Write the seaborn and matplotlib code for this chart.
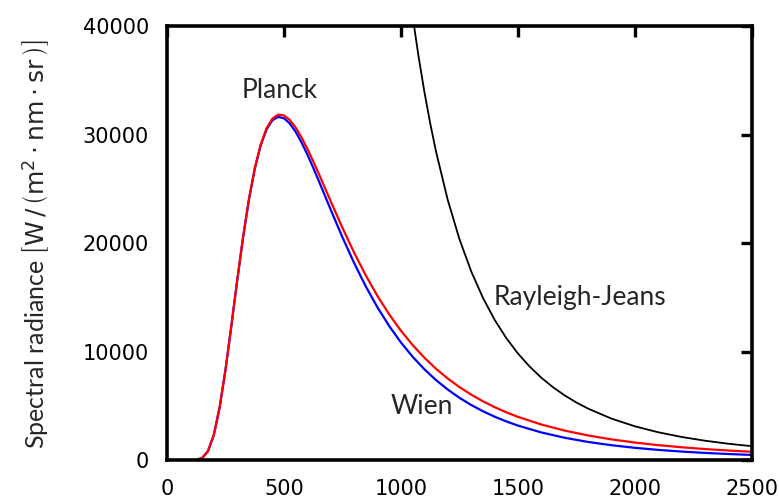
import matplotlib
matplotlib.use("Agg")
import matplotlib.pyplot as plt
import seaborn as sns
import pandas as pd

# wavelength (nm) and spectral radiance values
wl = [125, 150, 175, 200, 225, 250, 275, 300, 325, 350, 375, 400, 425, 450, 475,
      500, 525, 550, 575, 600, 625, 650, 675, 700, 750, 800, 850, 900, 950,
      1000, 1050, 1100, 1150, 1200, 1250, 1300, 1350, 1400, 1450, 1500, 1600,
      1700, 1800, 1900, 2000, 2100, 2200, 2300, 2400, 2500]
planck = [18, 179, 812, 2310, 4858, 8329, 12369, 16561, 20531, 24019, 26877,
          29052, 30557, 31456, 31827, 31756, 31332, 30634, 29729, 28677, 27526,
          26314, 25073, 23826, 21389, 19096, 16993, 15098, 13407, 11908, 10588,
          9426, 8403, 7507, 6717, 6023, 5412, 4873, 4396, 3975, 3268, 2708,
          2259, 1900, 1606, 1368, 1171, 1007, 872, 757]
wien = [18, 179, 812, 2310, 4858, 8328, 12367, 16555, 20518, 23994, 26832,
        28980, 30449, 31303, 31623, 31494, 31007, 30243, 29270, 28150, 26932,
        25656, 24354, 23051, 20515, 18143, 15981, 14047, 12333, 10826, 9509,
        8360, 7359, 6489, 5731, 5071, 4496, 3994, 3555, 3171, 2538, 2047,
        1663, 1362, 1122, 931, 777, 652, 551, 467]
wl_rj = [1050, 1075, 1100, 1125, 1150, 1200, 1250, 1300, 1350, 1400, 1450,
         1500, 1550, 1600, 1650, 1700, 1750, 1800, 1900, 2000, 2100, 2200,
         2300, 2400, 2500]
rayleigh_jeans = [40862, 37192, 33925, 31008, 28398, 23953, 20344, 17390,
                  14954, 12929, 11236, 9811, 8605, 7579, 6701, 5947, 5296,
                  4731, 3811, 3104, 2554, 2120, 1775, 1497, 1272]

sns.set_style("white")
plt.rcParams['font.family'] = ['Lato', 'DejaVu Sans']
plt.rcParams['mathtext.fontset'] = 'dejavusans'

df_main = pd.DataFrame({'wl': wl, 'planck': planck, 'wien': wien})
df_rj = pd.DataFrame({'wl': wl_rj, 'rj': rayleigh_jeans})

fig = plt.figure(figsize=(7.79, 5.04), dpi=100)
ax = fig.add_axes([0.2144, 0.0873, 0.7509, 0.8611])

sns.lineplot(data=df_rj, x='wl', y='rj', color='black', lw=1.3, ax=ax)
sns.lineplot(data=df_main, x='wl', y='wien', color='#0000ff', lw=1.6, ax=ax)
sns.lineplot(data=df_main, x='wl', y='planck', color='#ff0000', lw=1.6, ax=ax)

ax.set_xlim(0, 2500)
ax.set_ylim(0, 40000)
ax.set_xticks([0, 500, 1000, 1500, 2000, 2500])
ax.set_yticks([0, 10000, 20000, 30000, 40000])
ax.tick_params(direction='in', length=8, width=2.4, top=True, right=True,
               colors='black')
ax.tick_params(axis='x', pad=14)
ax.tick_params(axis='y', pad=13)
for lab in ax.get_xticklabels() + ax.get_yticklabels():
    lab.set_fontfamily('DejaVu Sans')
    lab.set_fontsize(15)
for s in ax.spines.values():
    s.set_linewidth(2.6)
    s.set_color('black')

ax.set_xlabel('')
ax.set_ylabel(r'Spectral radiance $\left[\mathrm{W}\,/\,\left(\mathrm{m}^{2}\cdot\mathrm{nm}\cdot\mathrm{sr}_{\,}\right)\right]$',
              fontsize=18, va='center')
ax.yaxis.set_label_coords(-0.225, 0.497)

ax.text(483, 34100, 'Planck', fontsize=19, ha='center', va='center')
ax.text(1090, 4900, 'Wien', fontsize=19, ha='center', va='center')
ax.text(1765, 15000, 'Rayleigh-Jeans', fontsize=19, ha='center', va='center')

plt.savefig('out.png', dpi=100)
